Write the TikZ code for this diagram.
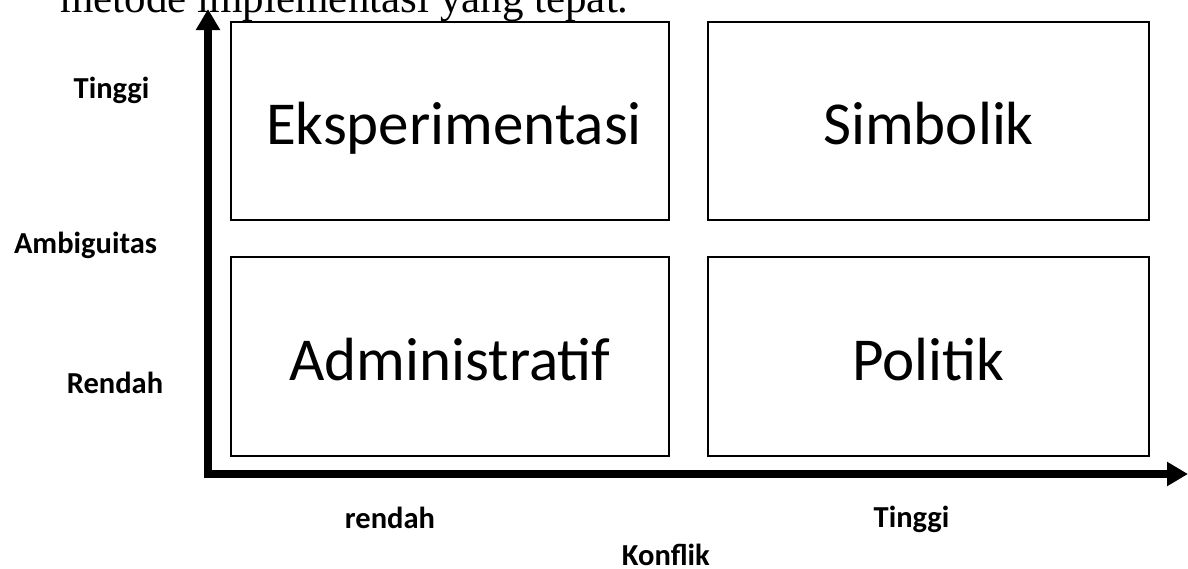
\documentclass[tikz,border=0pt]{standalone}
\usepackage{fontspec}
\setmainfont{Carlito}
\newfontfamily\bodyserif{Liberation Serif}
\usetikzlibrary{arrows.meta}
\begin{document}
\begin{tikzpicture}[x=1pt,y=-1pt,
  quad/.style={draw=black,line width=2.2pt,inner sep=0pt,
    font=\fontsize{61}{67}\selectfont,text height=47pt,text depth=0pt},
  axislabel/.style={font=\fontsize{30.5}{34}\selectfont\bfseries,anchor=base,inner sep=0pt},
  axisline/.style={line width=8pt,line cap=rect,-{Triangle[length=21pt,width=23pt]}}]
\useasboundingbox (0,0) rectangle (1188,568);

% running text above the figure
\node[font=\fontsize{43}{48}\selectfont\bodyserif,anchor=base west,inner sep=0pt] (para) at (60,12)
  {metode implementasi yang tepat.};

% the four quadrants
\node[quad,minimum width=438pt,minimum height=198pt] (eks) at (450,121) {\hspace*{8pt}Eksperimentasi};
\node[quad,minimum width=441pt,minimum height=198pt] (sim) at (928.5,121) {Simbolik};
\node[quad,minimum width=438pt,minimum height=199pt] (adm) at (450,356.5) {Administratif};
\node[quad,minimum width=441pt,minimum height=199pt] (pol) at (928.5,356.5) {Politik};

% axes
\coordinate (o) at (208,474);
\coordinate (ytop) at (208,9);
\coordinate (xend) at (1188,474);
\draw[axisline] (o) -- (ytop);
\draw[axisline] (o) -- (xend);

% axis labels
\node[axislabel] (yhi) at (111.5,98) {Tinggi};
\node[axislabel] (yname) at (85.5,253) {Ambiguitas};
\node[axislabel] (ylo) at (115,393) {Rendah};
\node[axislabel] (xlo) at (390,528) {rendah};
\node[axislabel] (xhi) at (911.5,527) {Tinggi};
\node[axislabel,anchor=base east] (xname) at (710,565) {Konflik};
\end{tikzpicture}
\end{document}
